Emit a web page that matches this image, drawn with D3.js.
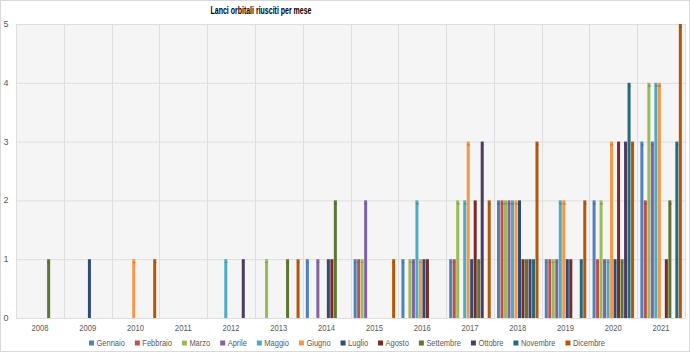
<!DOCTYPE html>
<html>
<head>
<meta charset="utf-8">
<script src="https://cdn.jsdelivr.net/npm/d3@7"></script>
<style>
  body { margin: 0; background: #fff; }
  svg { font-family: "Liberation Sans", Arial, sans-serif; }
</style>
</head>
<body>
<svg id="chart" width="690" height="352"></svg>
<script>
const months = ["Gennaio", "Febbraio", "Marzo", "Aprile", "Maggio", "Giugno", "Luglio", "Agosto", "Settembre", "Ottobre", "Novembre", "Dicembre"];
const years = ["2008", "2009", "2010", "2011", "2012", "2013", "2014", "2015", "2016", "2017", "2018", "2019", "2020", "2021"];
const yTicks = [0, 1, 2, 3, 4, 5];
const colors = ["#4f81bd", "#c0504d", "#9bbb59", "#8064a2", "#4bacc6", "#f79646", "#2c4d75", "#772c2a", "#5f7530", "#4d3b62", "#276a7c", "#b65708"];

// launches per month, one array per year
const l2008 = [0, 0, 0, 0, 0, 0, 0, 0, 1, 0, 0, 0];
const l2009 = [0, 0, 0, 0, 0, 0, 1, 0, 0, 0, 0, 0];
const l2010 = [0, 0, 0, 0, 0, 1, 0, 0, 0, 0, 0, 1];
const l2011 = [0, 0, 0, 0, 0, 0, 0, 0, 0, 0, 0, 0];
const l2012 = [0, 0, 0, 0, 1, 0, 0, 0, 0, 1, 0, 0];
const l2013 = [0, 0, 1, 0, 0, 0, 0, 0, 1, 0, 0, 1];
const l2014 = [1, 0, 0, 1, 0, 0, 1, 1, 2, 0, 0, 0];
const l2015 = [1, 1, 1, 2, 0, 0, 0, 0, 0, 0, 0, 1];
const l2016 = [1, 0, 1, 1, 2, 1, 1, 1, 0, 0, 0, 0];
const l2017 = [1, 1, 2, 0, 2, 3, 1, 2, 1, 3, 0, 2];
const l2018 = [2, 2, 2, 2, 2, 2, 2, 1, 1, 1, 1, 3];
const l2019 = [1, 1, 1, 1, 2, 2, 1, 1, 0, 0, 1, 2];
const l2020 = [2, 1, 2, 1, 1, 3, 1, 3, 1, 3, 4, 3];
const l2021 = [3, 2, 4, 3, 4, 4, 0, 1, 2, 0, 3, 5];

const byYear = [l2008, l2009, l2010, l2011, l2012, l2013, l2014, l2015, l2016, l2017, l2018, l2019, l2020, l2021];

let svg = d3.select("#chart");
let plotLeft = 16, plotRight = 685, plotTop = 24, plotBottom = 318;

// outer border
svg.append("rect").attr("x", 0.5).attr("y", 0.5).attr("width", 689).attr("height", 351)
	.attr("fill", "#fff").attr("stroke", "#d9d9d9");

let x0 = d3.scaleBand().domain(years).range([plotLeft, plotRight]).padding(0);
let x1 = d3.scaleBand().domain(months).range([0, x0.bandwidth()]).paddingInner(0.14).paddingOuter(0.9);
let y = d3.scaleLinear().domain([0, 5]).range([plotBottom, plotTop]);
let color = d3.scaleOrdinal(months, colors);

// plot background
svg.append("rect").attr("x", plotLeft).attr("y", plotTop).attr("width", plotRight - plotLeft).attr("height", plotBottom - plotTop)
	.attr("fill", "#f5f5f5");

// horizontal grid
svg.append("g").selectAll("line").data(yTicks).enter().append("line")
	.attr("x1", plotLeft).attr("x2", plotRight)
	.attr("y1", d => y(d) + 0.5).attr("y2", d => y(d) + 0.5)
	.attr("stroke", "#dedede");

// vertical grid at year boundaries
svg.append("g").selectAll("line").data(years.concat(["end"])).enter().append("line")
	.attr("x1", d => Math.round(d == "end" ? plotRight : x0(d)) + 0.5)
	.attr("x2", d => Math.round(d == "end" ? plotRight : x0(d)) + 0.5)
	.attr("y1", plotTop).attr("y2", plotBottom)
	.attr("stroke", "#dedede");

// y axis labels
svg.append("g").selectAll("text").data(yTicks).enter().append("text")
	.attr("x", 6).attr("y", d => y(d) + 3)
	.attr("text-anchor", "middle")
	.attr("font-size", 9).attr("fill", "#595959")
	.text(d => d);

// x axis labels
svg.append("g").selectAll("text").data(years).enter().append("text")
	.attr("x", d => x0(d) + x0.bandwidth() / 2).attr("y", 331)
	.attr("text-anchor", "middle")
	.attr("font-size", 9).attr("fill", "#595959")
	.attr("textLength", 17).attr("lengthAdjust", "spacingAndGlyphs")
	.text(d => d);

// bars
let cells = [];
years.forEach(function(yr, i) {
	months.forEach(function(m, j) {
		if (byYear[i][j] > 0) cells.push({ year: yr, month: m, value: byYear[i][j] });
	});
});

let bars = svg.append("g").selectAll("g").data(cells).enter().append("g")
	.attr("transform", d => "translate(" + (x0(d.year) + x1(d.month)) + ",0)");

bars.append("rect")
	.attr("x", 0).attr("y", d => y(d.value))
	.attr("width", x1.bandwidth()).attr("height", d => y(0) - y(d.value))
	.attr("fill", d => color(d.month));

// tiny data labels at the top of each bar
bars.append("text")
	.attr("transform", d => "translate(" + (x1.bandwidth() / 2 - 1.2) + "," + (y(d.value) + 2) + ") rotate(90)")
	.attr("font-size", 4).attr("fill", "#404040").attr("fill-opacity", 0.8)
	.text(d => d.value);

// title
svg.append("text").attr("x", 261).attr("y", 14)
	.attr("text-anchor", "middle")
	.attr("font-size", 10).attr("font-weight", "bold").attr("fill", "#000")
	.attr("textLength", 101).attr("lengthAdjust", "spacingAndGlyphs")
	.text("Lanci orbitali riusciti per mese");

// legend, squeezed to the width it has in the reference
let legend = svg.append("g");
let legendTarget = 516;
let items = months.map(function(m) {
	let t = legend.append("text").attr("font-size", 9.5).attr("fill", "#595959").text(m);
	return { m: m, node: t, w: t.node().getComputedTextLength() };
});
let gapW = 10, boxW = 7.5;
let k = (legendTarget - (boxW + gapW) * items.length + gapW) / d3.sum(items, d => d.w);
let lx = 0;
items.forEach(function(it) {
	legend.append("rect").attr("x", lx).attr("y", -5.5).attr("width", 5).attr("height", 5).attr("fill", color(it.m));
	it.node.attr("x", lx + boxW).attr("y", 0)
		.attr("textLength", it.w * k).attr("lengthAdjust", "spacingAndGlyphs");
	lx += boxW + it.w * k + gapW;
});
legend.attr("transform", "translate(89,346)");
</script>
</body>
</html>
